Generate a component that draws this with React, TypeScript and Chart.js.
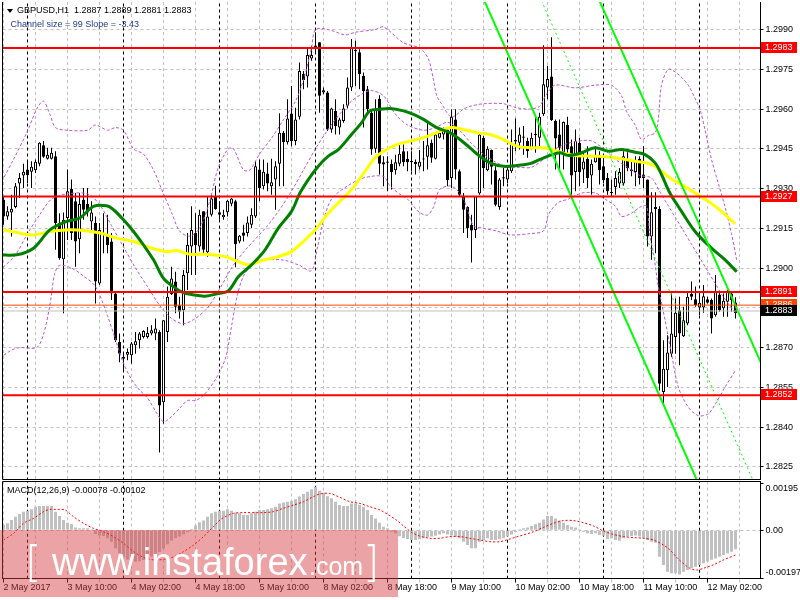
import React, { useEffect, useRef } from "react";
import { Chart, registerables } from "chart.js";

Chart.register(...registerables);

// ---------------- DATA ----------------
// Candle prices are stored as pips above 1.2800 (price = 1.2800 + pips / 10000)
const PIP_BASE = 1.28;

const openPips = [
  125.8, 119.5, 121.0, 123.0, 131.9, 134.9, 137.2, 136.3, 136.9, 139.4,
  146.3, 141.2, 141.2, 142.2, 117.0, 103.3, 118.9, 129.8, 125.2, 110.9,
  125.8, 124.2, 117.6, 117.0, 94.2, 113.2, 112.2, 110.0, 90.4, 72.1,
  66.4, 67.3, 67.1, 70.9, 72.8, 74.0, 74.0, 75.3, 75.3, 75.9,
  49.4, 75.9, 90.2, 94.9, 86.0, 84.1, 98.0, 108.1, 113.2, 108.1,
  121.4, 106.0, 120.1, 127.3, 121.1, 119.2, 121.1, 124.3, 125.2, 110.0,
  113.4, 113.2, 116.3, 119.5, 137.2, 130.9, 135.7, 130.9, 133.4, 139.4,
  151.1, 147.5, 158.3, 147.9, 157.1, 173.2, 172.3, 179.1, 183.3, 185.2,
  166.2, 166.2, 152.3, 159.3, 153.0, 155.5, 161.2, 168.1, 182.3, 181.4,
  172.5, 167.5, 158.6, 145.0, 163.9, 139.9, 140.2, 139.3, 136.9, 139.4,
  144.1, 141.2, 140.5, 140.1, 138.2, 141.0, 142.0, 147.3, 141.2, 149.2,
  150.4, 152.3, 134.0, 156.1, 136.5, 127.3, 123.0, 116.3, 114.4, 128.1,
  149.2, 136.9, 144.5, 136.9, 123.0, 133.8, 133.4, 136.5, 147.8, 147.3,
  149.2, 147.9, 145.0, 150.2, 149.2, 158.0, 168.1, 172.3, 155.5, 150.4,
  143.7, 154.1, 146.0, 136.2, 147.3, 137.2, 141.2, 134.9, 139.9, 142.2,
  138.4, 134.0, 128.6, 130.6, 131.9, 131.9, 141.2, 137.2, 136.2, 141.2,
  135.3, 133.4, 111.9, 122.3, 122.3, 53.2, 61.4, 67.7, 74.0, 84.1,
  74.3, 79.1, 90.2, 88.2, 85.1, 85.1, 88.2, 87.9, 82.2, 90.0,
  84.8, 87.3, 90.4, 87.0,
];

const highPips = [
  127.1, 123.3, 127.7, 132.1, 135.9, 139.4, 140.3, 140.3, 141.0, 147.5,
  147.9, 145.4, 145.4, 144.1, 120.7, 121.0, 137.2, 133.4, 128.3, 128.3,
  130.2, 130.2, 125.2, 119.5, 117.0, 120.7, 120.1, 113.2, 91.1, 75.3,
  67.7, 69.6, 72.1, 75.9, 75.9, 76.5, 77.8, 78.4, 81.0, 76.5,
  80.3, 93.0, 100.5, 98.6, 89.2, 99.3, 113.2, 123.3, 120.7, 122.0,
  121.4, 127.1, 127.7, 131.1, 125.2, 122.0, 125.8, 126.4, 125.8, 112.5,
  116.3, 119.5, 122.6, 140.3, 141.0, 141.0, 139.7, 141.2, 140.3, 158.4,
  151.7, 163.7, 168.7, 160.5, 177.6, 174.4, 183.3, 183.9, 189.0, 185.2,
  168.1, 166.8, 160.5, 163.7, 156.7, 161.8, 171.9, 186.4, 185.8, 182.6,
  173.8, 168.7, 159.9, 163.7, 165.2, 142.2, 142.2, 141.0, 142.8, 146.6,
  146.6, 144.1, 144.1, 141.0, 144.5, 147.9, 154.8, 148.5, 151.1, 152.3,
  153.0, 153.0, 159.9, 159.9, 137.2, 128.3, 123.3, 120.1, 127.1, 151.1,
  149.8, 146.0, 144.7, 138.4, 134.0, 137.8, 137.8, 152.3, 156.4, 153.0,
  153.6, 149.2, 151.1, 157.4, 158.6, 184.1, 176.3, 187.1, 156.1, 156.1,
  155.3, 157.1, 148.5, 152.3, 149.2, 143.5, 146.0, 141.0, 146.0, 144.1,
  141.6, 135.9, 133.4, 136.5, 137.8, 144.1, 143.7, 140.3, 142.2, 142.2,
  146.0, 133.4, 128.6, 128.6, 123.3, 72.8, 74.6, 90.4, 88.5, 89.2,
  85.4, 91.1, 94.9, 93.0, 90.4, 93.6, 89.2, 88.5, 97.4, 91.1,
  90.4, 91.7, 91.1, 89.0,
];

const lowPips = [
  116.3, 118.2, 111.9, 122.6, 126.4, 130.2, 132.1, 130.2, 135.9, 138.4,
  141.6, 141.0, 141.0, 106.9, 103.1, 82.9, 110.6, 110.6, 100.5, 105.6,
  118.2, 119.5, 113.2, 86.6, 93.6, 105.6, 105.6, 87.9, 72.1, 64.5,
  61.4, 65.2, 63.9, 67.7, 69.6, 73.4, 73.4, 74.6, 72.8, 30.4,
  41.2, 72.1, 89.8, 82.9, 81.0, 78.4, 91.7, 97.4, 97.4, 106.2,
  105.6, 104.3, 119.5, 122.0, 118.2, 118.2, 119.5, 123.3, 100.3, 109.4,
  110.0, 111.9, 115.1, 118.9, 125.2, 129.6, 129.0, 127.7, 122.0, 130.9,
  130.9, 146.6, 146.0, 146.3, 156.1, 167.5, 168.1, 178.2, 181.4, 158.6,
  165.6, 151.7, 151.1, 150.4, 150.4, 154.8, 160.2, 166.8, 168.7, 167.5,
  153.0, 158.6, 142.8, 143.5, 135.3, 130.9, 129.0, 129.6, 135.3, 138.4,
  138.4, 136.5, 136.5, 135.3, 137.2, 136.5, 137.2, 139.7, 141.0, 148.9,
  148.5, 130.9, 130.2, 133.4, 127.1, 113.2, 111.3, 102.1, 111.3, 127.7,
  130.2, 136.5, 131.5, 123.3, 122.0, 130.9, 132.1, 135.9, 144.1, 144.7,
  142.8, 141.6, 144.7, 143.5, 145.4, 157.4, 163.7, 155.5, 137.2, 137.2,
  137.2, 142.8, 127.7, 129.0, 130.9, 132.1, 130.2, 127.7, 139.7, 131.5,
  132.1, 127.7, 127.1, 127.7, 130.2, 131.1, 136.5, 134.6, 130.9, 131.5,
  130.2, 108.1, 103.1, 105.6, 53.8, 48.1, 55.1, 66.4, 67.7, 63.3,
  74.0, 78.4, 87.9, 85.4, 82.2, 83.1, 86.6, 75.3, 81.6, 83.5,
  81.6, 81.6, 83.5, 81.0,
];

const closePips = [
  119.5, 121.4, 122.4, 130.9, 134.0, 136.3, 135.0, 138.2, 140.1, 147.3,
  142.0, 142.8, 143.5, 117.0, 103.7, 118.2, 129.0, 113.2, 110.0, 124.2,
  122.0, 121.0, 121.0, 94.9, 114.4, 112.5, 108.7, 90.4, 72.8, 67.7,
  65.8, 68.3, 71.5, 72.4, 75.3, 76.2, 75.5, 76.5, 77.2, 48.1,
  80.3, 89.2, 96.1, 85.4, 83.5, 97.4, 108.7, 114.4, 108.7, 120.1,
  106.9, 119.5, 126.2, 122.3, 120.1, 120.1, 125.4, 126.2, 109.0, 112.2,
  112.2, 117.2, 120.1, 138.4, 130.2, 136.3, 131.9, 132.4, 138.4, 151.1,
  147.5, 156.4, 147.9, 156.1, 174.4, 171.0, 180.4, 180.4, 184.0, 165.0,
  167.1, 152.3, 160.2, 153.6, 156.1, 160.2, 168.1, 183.3, 181.8, 173.2,
  166.8, 159.9, 144.7, 159.9, 139.4, 139.1, 139.7, 136.2, 139.9, 143.1,
  139.9, 139.9, 139.9, 139.3, 140.1, 141.2, 146.3, 141.6, 150.4, 151.1,
  152.3, 133.1, 157.1, 137.2, 127.7, 122.0, 115.1, 114.2, 127.1, 150.4,
  137.8, 145.0, 138.2, 123.9, 133.4, 134.3, 137.2, 147.3, 148.3, 150.4,
  149.6, 144.1, 149.2, 150.4, 157.1, 169.4, 171.3, 155.9, 148.9, 145.4,
  155.1, 144.7, 134.9, 147.9, 136.2, 140.2, 134.0, 139.4, 142.8, 136.9,
  133.1, 129.0, 128.3, 134.0, 136.2, 142.2, 137.8, 136.5, 140.3, 134.0,
  134.0, 111.9, 121.1, 123.0, 56.3, 62.0, 68.1, 75.3, 83.1, 75.3,
  80.3, 89.2, 89.2, 86.0, 86.9, 89.4, 86.9, 81.0, 91.1, 84.1,
  87.7, 91.1, 87.9, 83.0,
];

// Moving averages and Bollinger bands: [bar index, pips above 1.2800]
const greenMA: [number, number][] = [
  [-1, 105.0], [3.3, 105.0], [7.5, 107.5], [11.6, 114.4], [15.8, 117.6], [19.1, 118.9],
  [22.5, 123.3], [25.8, 123.5], [27.5, 122.0], [30, 118.2], [32.5, 113.8], [35, 108.7],
  [37.5, 103.1], [40, 96.1], [42.5, 93.0], [45, 90.7], [47, 90.0], [50.4, 89.4],
  [53.7, 90.4], [56.2, 91.4], [58.7, 96.7], [62, 101.2], [65.4, 106.9], [68.7, 115.1],
  [72, 121.4], [74.1, 128.3], [76.2, 133.4], [78.7, 138.4], [81.2, 142.2], [83.7, 144.7],
  [87, 150.4], [89.5, 154.8], [91.6, 159.3], [94.1, 159.9], [96.6, 160.2], [100, 159.3],
  [102.5, 158.0], [105, 156.1], [108.3, 153.0], [111.6, 151.1], [114.1, 148.5], [116.6, 145.4],
  [119.1, 142.2], [121.6, 139.7], [125, 138.4], [128.3, 138.7], [131.6, 139.4], [134.1, 141.0],
  [136.6, 142.5], [139.1, 143.5], [141.2, 142.5], [144.5, 143.5], [147.9, 145.4], [151.2, 144.1],
  [154.5, 144.7], [157.9, 143.7], [160.4, 142.8], [162.9, 139.7], [164.5, 135.3], [166.6, 128.3],
  [169.5, 121.4], [172.9, 113.8], [177, 107.5], [180.4, 103.1], [183.3, 98.6],
];

const yellowMA: [number, number][] = [
  [-1, 114.7], [3.3, 113.4], [7.5, 112.5], [11.6, 113.8], [15.8, 114.4], [20, 114.2],
  [24.1, 113.2], [28.3, 111.3], [32.5, 110.0], [36.6, 107.7], [40.8, 106.2], [43.3, 106.6],
  [46.6, 105.2], [50.4, 105.2], [55.4, 104.3], [58.7, 102.4], [61.2, 101.2], [64.5, 102.8],
  [68.7, 104.3], [72, 106.2], [74.5, 109.4], [77.9, 114.4], [81.2, 120.7], [84.5, 125.8],
  [87, 129.6], [89.5, 134.6], [92.9, 141.6], [95, 144.1], [98.3, 146.6], [101.6, 147.9],
  [105, 149.2], [108.3, 151.1], [111.6, 153.0], [115, 152.3], [118.3, 151.1], [121.6, 150.4],
  [125, 148.5], [128.3, 146.0], [131.6, 145.4], [135, 145.4], [138.3, 144.1], [142.9, 142.5],
  [147.9, 142.2], [152.9, 141.6], [157.9, 140.3], [162, 139.1], [164.5, 136.5], [167, 133.6],
  [169.5, 131.5], [172.9, 128.3], [176.2, 125.2], [179.5, 121.4], [182.9, 116.7],
];

const bandUpper: [number, number][] = [
  [-1, 131], [2.5, 141], [5.8, 151], [8.3, 160], [10, 163], [11.6, 158], [13, 153], [16, 152],
  [21, 152], [23, 154], [26, 152], [28, 153], [30, 152], [32.5, 145], [35, 143], [37.5, 137],
  [40, 128], [42, 121], [44, 114], [46.5, 112], [49, 115], [51.5, 125], [53.7, 138], [56.2, 145],
  [57.5, 145], [60, 137], [61.6, 137], [64, 143], [67, 149], [70, 156], [73, 163], [75, 171],
  [77, 183], [78, 190], [81.2, 190], [85.4, 188], [88, 189], [92.9, 190], [95, 191], [100, 185],
  [104.1, 183], [106.2, 179], [107.5, 171], [108.3, 165], [109.5, 162], [112, 157], [115, 160],
  [116.6, 161], [120, 162], [125, 162], [128.3, 160.5], [131.6, 160], [134, 161], [135.5, 165],
  [137.9, 169], [142.9, 168], [147.9, 169], [152, 169], [154.5, 165], [155.8, 159], [157.9, 154],
  [159.5, 148.5], [161.2, 150], [162.9, 151], [163.7, 156], [164.5, 169], [166.2, 175],
  [167.9, 174], [169.5, 172], [171.2, 169], [172.9, 164], [174.1, 160], [175.4, 152],
  [177, 141], [178.7, 132], [180.4, 123], [182, 113], [183.3, 103],
];

const bandMiddle: [number, number][] = [
  [-1, 99], [3, 105], [6, 113], [9, 120], [12, 126], [16, 128], [21, 128], [24, 124], [27, 116],
  [30, 108], [33, 100], [36, 93], [39, 86], [42, 81], [45, 79], [48, 81], [51, 85], [54, 92],
  [57, 100], [60, 106], [63, 111], [66, 116], [69, 122], [72, 129], [75, 137], [78, 145],
  [81, 152], [84, 158], [87, 163], [90, 166], [92, 167], [95, 165], [98, 158], [101, 154],
  [105, 152], [108, 153], [111, 155], [114, 152], [117, 147], [120, 143], [123, 140], [126, 138],
  [129, 138], [132, 138], [135, 141], [138, 145], [141, 147], [144, 148], [147, 148], [150, 145],
  [153, 141], [156, 138], [159, 135], [162, 134], [164, 129], [166, 124], [168, 119], [170, 114],
  [172, 109], [174, 104], [176, 99], [178, 94], [180, 89], [183, 83],
];

const bandLower: [number, number][] = [
  [-1, 66], [2, 69], [4, 70], [8.3, 70], [10, 75], [11.6, 86], [12.8, 98], [14, 101], [17, 100],
  [20, 97], [23, 93], [26, 82], [28, 73], [30, 64], [32, 58], [34, 54], [36, 51], [38, 46],
  [40, 42], [42, 44], [44, 47], [46, 50], [48, 50], [50, 52], [53, 58], [55.5, 66], [57, 78],
  [58.5, 90], [60, 97], [62, 101], [64, 103], [70, 103], [74, 101], [77, 99], [78.5, 108],
  [80, 118], [82, 126], [86, 131], [90, 134], [95, 134.6], [96.6, 131], [99, 128], [101, 126],
  [104, 121], [106, 120], [107.5, 123], [109, 129.6], [111.6, 131], [113.3, 129.6], [115, 126],
  [116, 122], [117.5, 116], [120, 115], [123.3, 114], [126.6, 112.5], [131.6, 113], [135, 114],
  [136.2, 120], [137.5, 123], [139, 125], [141.2, 126], [144.5, 128.3], [148, 128.3],
  [150.4, 126], [153, 123.3], [154.5, 119.5], [157, 120.7], [159.5, 123.3], [160.8, 123.3],
  [161.6, 112], [162.5, 105.6], [163.7, 93], [165.4, 80.3], [167, 67.7], [168.7, 55.1],
  [171.2, 47.5], [173.7, 44.3], [176.2, 45], [178, 48.8], [180.4, 55.1], [183, 61.4],
];

// Linear regression channel: [bar index, price]
const channelUpper: [number, number][] = [[148, 1.30042], [190, 1.28621]];
const channelMiddle: [number, number][] = [[134, 1.30026], [188, 1.28178]];
const channelLower: [number, number][] = [[120, 1.30016], [175, 1.28144]];

// Horizontal levels
const levelLines = [1.2983, 1.2927, 1.2891, 1.2852];
const askPrice = 1.2886;
const bidPrice = 1.28838;
const bidLabel = "1.2883";

// MACD histogram (units of 0.00001), one per bar
const macdHist = [
  22, 29, 42, 56, 67, 77, 81, 87, 97, 100,
  100, 100, 100, 77, 59, 42, 31, 26, 12, 8,
  8, 8, 4, -15, -21, -24, -33, -47, -74, -95,
  -110, -120, -127, -130, -128, -123, -117, -108, -97, -90,
  -75, -58, -42, -32, -26, -17, -8, 5, 20, 33,
  40, 56, 70, 77, 81, 81, 87, 81, 73, 70,
  63, 63, 70, 77, 84, 84, 87, 91, 97, 111,
  115, 118, 122, 128, 139, 150, 159, 169, 180, 163,
  155, 141, 132, 118, 104, 100, 100, 111, 111, 104,
  97, 84, 63, 49, 31, 15, 8, -6, -12, -25,
  -33, -36, -40, -40, -37, -33, -29, -26, -22, -17,
  -12, -17, -21, -26, -33, -47, -61, -74, -74, -47,
  -40, -33, -40, -40, -37, -33, -26, -17, -7, 4,
  8, 12, 18, 25, 31, 45, 59, 59, 49, 40,
  31, 22, 15, 12, 4, -7, -12, -15, -12, -19,
  -22, -36, -33, -40, -43, -33, -26, -24, -21, -26,
  -33, -40, -47, -51, -109, -143, -171, -177, -177, -182,
  -171, -164, -157, -150, -143, -136, -129, -122, -116, -109,
  -102, -95, -88, -78,
];

// MACD signal line: [bar index, units of 0.00001]
const macdSignal: [number, number][] = [
  [0, -40], [2.5, -13], [5, 29], [7.5, 49], [10, 77], [11.6, 86], [13.3, 86], [15.4, 84],
  [17.5, 56], [20, 29], [22.5, 8], [25, -6], [27.5, -26], [30, -54], [32.5, -88], [35, -112],
  [37.5, -122], [40, -120], [42.5, -110], [45, -88], [47.5, -61], [50, -26], [52.5, 15],
  [54.1, 42], [55.8, 59], [57.5, 70], [60, 73], [65, 73], [67.5, 77], [70, 91], [72.5, 104],
  [75, 118], [77.5, 139], [79.1, 150], [81.6, 152], [84.1, 136], [86.6, 118], [89.1, 111],
  [91.6, 97], [94.1, 84], [96, 66], [98, 45], [100, 18], [102, -8], [104.1, -24], [106.6, -33],
  [109.1, -33], [111.6, -26], [114.1, -26], [116.6, -33], [119.1, -40], [121.6, -47],
  [124.1, -47], [125.8, -40], [127.9, -29], [130, -19], [132.5, -6], [135, 12], [137.5, 29],
  [140, 40], [142.5, 40], [145, 31], [147.5, 18], [150, -3], [152.5, -17], [155, -26],
  [157.5, -30], [160, -33], [162.5, -40], [165, -61], [166.6, -81], [169, -123], [171.6, -157],
  [173.3, -164], [174.9, -157], [177.4, -143], [179.9, -123], [183, -102],
];

const priceTicks = [1.2825, 1.284, 1.2855, 1.287, 1.2885, 1.29, 1.2915, 1.293, 1.2945, 1.296, 1.2975, 1.299];
const macdTicks = [-0.00197, 0, 0.00195];
const macdTickLabels: any[] = [["-0.00197", ""], "0.00", ["", "0.00195"]];
const timeLabels = [
  "2 May 2017", "3 May 10:00", "4 May 02:00", "4 May 18:00", "5 May 10:00", "8 May 02:00",
  "8 May 18:00", "9 May 10:00", "10 May 02:00", "10 May 18:00", "11 May 10:00", "12 May 02:00",
];
const dayStartBars = [6, 30, 54, 78, 102, 126, 150, 174];

// ---------------- helpers ----------------
const FONT_FAMILY = "'Liberation Sans', Arial, sans-serif";
const AXIS_FONT = { family: FONT_FAMILY, size: 9 };
const X_MIN = -0.25;
const X_MAX = 189.25;
const Y_MIN = 1.2820208;
const Y_MAX = 1.3000396;
const M_MIN = -0.0019889;
const M_MAX = 0.0020136;

const toPrice = (p: number) => PIP_BASE + p / 10000;
const pipPoints = (arr: [number, number][]) => arr.map(([x, v]) => ({ x, y: toPrice(v) }));
const pricePoints = (arr: [number, number][]) => arr.map(([x, v]) => ({ x, y: v }));
const gridBars = Array.from({ length: 24 }, (_, k) => k * 8);

const separatorSets = (lo: number, hi: number) =>
  dayStartBars.map((d) => ({
    type: "line",
    data: [{ x: d, y: lo }, { x: d, y: hi }],
    borderColor: "#000000",
    borderWidth: 1,
    borderDash: [3, 3],
    pointRadius: 0,
    order: 100,
  }));

const hLine = (price: number, color: string, width: number, order: number) => ({
  type: "line",
  data: [{ x: X_MIN - 5, y: price }, { x: X_MAX + 5, y: price }],
  borderColor: color,
  borderWidth: width,
  pointRadius: 0,
  order,
});

const frame = (sides: { top: boolean }) => ({
  id: "frame",
  afterDatasetsDraw(chart: any) {
    const { ctx, chartArea: a } = chart;
    ctx.save();
    ctx.strokeStyle = "#000";
    ctx.lineWidth = 1;
    ctx.beginPath();
    ctx.moveTo(a.left, a.top);
    ctx.lineTo(a.left, a.bottom);
    ctx.lineTo(a.right, a.bottom);
    ctx.lineTo(a.right, a.top);
    if (sides.top) ctx.lineTo(a.left, a.top);
    ctx.stroke();
    ctx.restore();
  },
});

const priceLabels = {
  id: "priceLabels",
  afterDraw(chart: any) {
    const { ctx } = chart;
    const ys = chart.scales.y;
    ctx.save();
    ctx.font = `9px ${FONT_FAMILY}`;
    ctx.textBaseline = "middle";
    ctx.textAlign = "left";
    const box = (v: number, text: string, bg: string) => {
      const py = Math.round(ys.getPixelForValue(v));
      ctx.fillStyle = bg;
      ctx.fillRect(761, py - 6, 36, 11);
      ctx.fillStyle = "#ffffff";
      ctx.fillText(text, 765, py);
    };
    levelLines.forEach((v) => box(v, v.toFixed(4), "#FF0000"));
    box(askPrice, askPrice.toFixed(4), "#FF4500");
    box(bidPrice, bidLabel, "#000000");
    ctx.restore();
  },
};

function mainConfig(): any {
  const bars = openPips.map((_, i) => i);
  const up = bars.map((i) => closePips[i] >= openPips[i]);
  return {
    type: "bar",
    data: {
      datasets: [
        ...separatorSets(Y_MIN - 0.01, Y_MAX + 0.01),
        {
          type: "bar",
          data: bars.map((i) => ({ x: i, y: [toPrice(lowPips[i]), toPrice(highPips[i])] })),
          backgroundColor: "#000000",
          borderWidth: 0,
          barThickness: 1,
          grouped: false,
          inflateAmount: 0,
          order: 80,
        },
        {
          type: "bar",
          data: bars.map((i) => ({ x: i, y: [toPrice(openPips[i]), toPrice(closePips[i])] })),
          backgroundColor: up.map((u) => (u ? "#ffffff" : "#000000")),
          borderColor: "#000000",
          borderWidth: 1,
          borderSkipped: false,
          barThickness: 3,
          minBarLength: 1,
          grouped: false,
          inflateAmount: 0,
          order: 70,
        },
        ...[bandUpper, bandMiddle, bandLower].map((b) => ({
          type: "line",
          data: pipPoints(b),
          borderColor: "#BA55D3",
          borderWidth: 1,
          borderDash: [3, 2],
          pointRadius: 0,
          tension: 0.3,
          order: 60,
        })),
        {
          type: "line",
          data: pipPoints(yellowMA),
          borderColor: "#FFFF00",
          borderWidth: 3,
          pointRadius: 0,
          tension: 0.35,
          order: 55,
        },
        {
          type: "line",
          data: pipPoints(greenMA),
          borderColor: "#008000",
          borderWidth: 3,
          pointRadius: 0,
          tension: 0.35,
          order: 50,
        },
        {
          type: "line",
          data: pricePoints(channelUpper),
          borderColor: "#00FF00",
          borderWidth: 2,
          pointRadius: 0,
          order: 40,
        },
        {
          type: "line",
          data: pricePoints(channelLower),
          borderColor: "#00FF00",
          borderWidth: 2,
          pointRadius: 0,
          order: 40,
        },
        {
          type: "line",
          data: pricePoints(channelMiddle),
          borderColor: "#00FF00",
          borderWidth: 1,
          borderDash: [2, 3],
          pointRadius: 0,
          order: 40,
        },
        hLine(bidPrice, "#C0C0C0", 1, 30),
        hLine(askPrice, "#FF4500", 1, 20),
        ...levelLines.map((v) => hLine(v, "#FF0000", 2, 10)),
      ],
    },
    options: {
      animation: false,
      responsive: false,
      events: [],
      layout: { padding: { left: 2.5, top: 2, right: 0, bottom: 2.5 }, autoPadding: false },
      plugins: { legend: { display: false }, tooltip: { enabled: false } },
      scales: {
        x: {
          type: "linear",
          min: X_MIN,
          max: X_MAX,
          bounds: "data",
          offset: false,
          afterBuildTicks: (s: any) => {
            s.ticks = gridBars.map((v) => ({ value: v }));
          },
          afterFit: (s: any) => {
            s.height = 0;
            s.paddingLeft = 0;
            s.paddingRight = 0;
          },
          ticks: { display: false, autoSkip: false },
          grid: { color: "#C0C0C0", lineWidth: 1, drawTicks: false, offset: false },
          border: { display: false, dash: [3, 3] },
        },
        y: {
          type: "linear",
          position: "right",
          min: Y_MIN,
          max: Y_MAX,
          bounds: "data",
          afterBuildTicks: (s: any) => {
            s.ticks = priceTicks.map((v) => ({ value: v }));
          },
          afterFit: (s: any) => {
            s.width = 39.5;
            s.paddingTop = 0;
            s.paddingBottom = 0;
          },
          ticks: {
            autoSkip: false,
            padding: 2,
            color: "#000000",
            font: AXIS_FONT,
            callback: (v: any) => Number(v).toFixed(4),
          },
          grid: { color: "#C0C0C0", tickColor: "#000000", tickLength: 3, drawTicks: true },
          border: { display: true, color: "#000000", width: 1, dash: [3, 3] },
        },
      },
    },
    plugins: [frame({ top: false }), priceLabels],
  };
}

function macdConfig(): any {
  const bars = macdHist.map((_, i) => i);
  return {
    type: "bar",
    data: {
      datasets: [
        ...separatorSets(M_MIN - 0.001, M_MAX + 0.001),
        {
          type: "bar",
          data: bars.map((i) => ({ x: i, y: macdHist[i] / 100000 })),
          backgroundColor: "#C0C0C0",
          borderWidth: 0,
          barThickness: 3,
          grouped: false,
          inflateAmount: 0,
          order: 50,
        },
        {
          type: "line",
          data: macdSignal.map(([x, v]) => ({ x, y: v / 100000 })),
          borderColor: "#FF0000",
          borderWidth: 1,
          borderDash: [2, 2],
          pointRadius: 0,
          tension: 0.3,
          order: 10,
        },
      ],
    },
    options: {
      animation: false,
      responsive: false,
      events: [],
      layout: { padding: { left: 2.5, top: 0.5, right: 0, bottom: 0 }, autoPadding: false },
      plugins: { legend: { display: false }, tooltip: { enabled: false } },
      scales: {
        x: {
          type: "linear",
          min: X_MIN,
          max: X_MAX,
          bounds: "data",
          offset: false,
          afterBuildTicks: (s: any) => {
            s.ticks = gridBars.map((v) => ({ value: v }));
          },
          afterFit: (s: any) => {
            s.height = 21.5;
            s.paddingLeft = 0;
            s.paddingRight = 0;
          },
          ticks: {
            autoSkip: false,
            maxRotation: 0,
            minRotation: 0,
            align: "start",
            padding: 0,
            color: "#000000",
            font: AXIS_FONT,
            callback: (v: any) => (v % 16 === 0 ? timeLabels[v / 16] || "" : ""),
          },
          grid: {
            color: "#C0C0C0",
            lineWidth: 1,
            drawTicks: true,
            tickLength: 4,
            offset: false,
            tickColor: (ctx: any) => (ctx.tick && ctx.tick.value % 16 === 0 ? "#000000" : "#C0C0C0"),
          },
          border: { display: true, color: "#000000", dash: [3, 3] },
        },
        y: {
          type: "linear",
          position: "right",
          min: M_MIN,
          max: M_MAX,
          bounds: "data",
          afterBuildTicks: (s: any) => {
            s.ticks = macdTicks.map((v) => ({ value: v }));
          },
          afterFit: (s: any) => {
            s.width = 39.5;
            s.paddingTop = 0;
            s.paddingBottom = 0;
          },
          ticks: {
            autoSkip: false,
            padding: 2,
            color: "#000000",
            font: AXIS_FONT,
            callback: (_v: any, i: number) => macdTickLabels[i],
          },
          grid: {
            color: (ctx: any) => (ctx.tick && ctx.tick.value === 0 ? "#C0C0C0" : "rgba(0,0,0,0)"),
            tickColor: "#000000",
            tickLength: 3,
            drawTicks: true,
          },
          border: { display: true, color: "#000000", width: 1, dash: [3, 3] },
        },
      },
    },
    plugins: [frame({ top: true })],
  };
}

const textAt = (
  left: number,
  baseline: number,
  size: number,
  color: string,
  family: string = FONT_FAMILY,
  weight: number = 400
): React.CSSProperties => ({
  position: "absolute",
  left,
  top: baseline - 0.8465 * size,
  fontSize: size,
  lineHeight: `${size}px`,
  fontFamily: family,
  fontWeight: weight,
  color,
  whiteSpace: "pre",
});

export default function App() {
  const mainRef = useRef<HTMLCanvasElement>(null);
  const macdRef = useRef<HTMLCanvasElement>(null);

  useEffect(() => {
    const c1 = new Chart(mainRef.current as HTMLCanvasElement, mainConfig());
    const c2 = new Chart(macdRef.current as HTMLCanvasElement, macdConfig());
    return () => {
      c1.destroy();
      c2.destroy();
    };
  }, []);

  const last = openPips.length - 1;
  const header =
    "GBPUSD,H1  " +
    [openPips[last], highPips[last], lowPips[last], closePips[last]].map((p) => toPrice(p).toFixed(4)).join(" ");

  return (
    <div
      style={{
        position: "fixed",
        left: 0,
        top: 0,
        width: 800,
        height: 600,
        background: "#ffffff",
        overflow: "hidden",
      }}
    >
      <canvas ref={mainRef} width={800} height={482} style={{ position: "absolute", left: 0, top: 0 }} />
      <canvas ref={macdRef} width={800} height={119} style={{ position: "absolute", left: 0, top: 481 }} />

      <div
        style={{
          position: "absolute",
          left: 7,
          top: 9,
          width: 0,
          height: 0,
          borderLeft: "3px solid transparent",
          borderRight: "3px solid transparent",
          borderTop: "4px solid #000",
        }}
      />
      <div style={textAt(17, 13.3, 9, "#000000")}>{header}</div>
      <div style={textAt(10.5, 27.3, 9, "#1F3A8A")}>Channel size = 99 Slope = -3.43</div>
      <div style={textAt(7, 494, 9, "#000000")}>MACD(12,26,9) -0.00078 -0.00102</div>

      <div
        style={{
          position: "absolute",
          left: 0,
          top: 530,
          width: 398,
          height: 67,
          background: "rgba(214,60,66,0.47)",
        }}
      />
      <div style={textAt(25, 578, 42, "#ffffff", "'DejaVu Sans', " + FONT_FAMILY, 200)}>[</div>
      <div style={textAt(52, 575, 38, "#ffffff")}>www.instaforex</div>
      <div style={textAt(309, 575, 25, "#ffffff")}>.com</div>
      <div style={textAt(363, 578, 42, "#ffffff", "'DejaVu Sans', " + FONT_FAMILY, 200)}>]</div>
    </div>
  );
}
